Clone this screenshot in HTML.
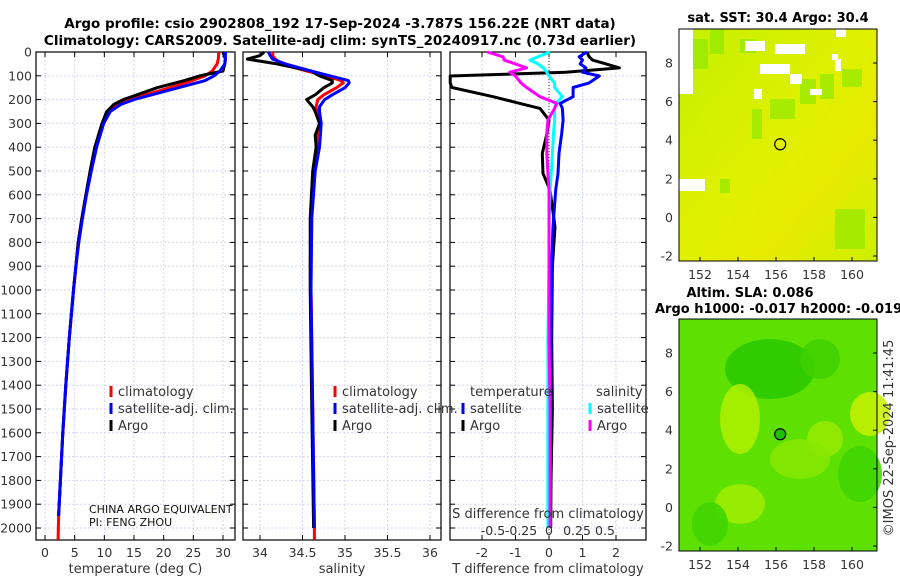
<!DOCTYPE html>
<html><head><meta charset="utf-8"><style>
body{margin:0;background:#fff;}
svg{display:block;font-family:"DejaVu Sans","Liberation Sans",sans-serif;}
</style></head><body>
<svg id="c" width="900" height="580" viewBox="0 0 900 580" xmlns="http://www.w3.org/2000/svg">
<text x="340" y="28" font-size="13.5" font-weight="bold" text-anchor="middle">Argo profile: csio 2902808_192 17-Sep-2024 -3.787S 156.22E (NRT data)</text>
<text x="340" y="45" font-size="13.5" font-weight="bold" text-anchor="middle">Climatology: CARS2009. Satellite-adj clim: synTS_20240917.nc (0.73d earlier)</text>
<g id="maps"></g>
<g id="plots"></g>
</svg>
<script>
// ---- data ----
const depthTicks=[0,100,200,300,400,500,600,700,800,900,1000,1100,1200,1300,1400,1500,1600,1700,1800,1900,2000];
const tempTicks=[0,5,10,15,20,25,30];
const salTicks=[34,34.5,35,35.5,36];
const tdiffTicks=[-2,-1,0,1,2];
const sdiffTicks=[-0.5,-0.25,0,0.25,0.5];
const tDepths=[0,30,50,80,100,120,150,180,200,220,250,300,400,500,600,700,800,900,1000,1200,1400,1600,1800,1950];
const tArgo=[30.0,30.4,30.3,30.0,26.1,23.5,18.9,15.5,13.2,11.6,10.4,9.6,8.4,7.6,6.9,6.2,5.6,5.2,4.8,4.1,3.5,3.0,2.6,2.3];
const tClim=[29.3,29.2,29.0,28.2,27.0,24.8,21.0,17.0,14.2,12.2,10.8,9.8,8.6,7.7,6.9,6.2,5.6,5.2,4.8,4.1,3.5,3.0,2.6,2.3];
const tSat=[30.4,30.4,30.3,29.5,28.5,27.0,22.5,18.0,15.0,12.8,11.0,9.9,8.7,7.8,7.0,6.3,5.7,5.2,4.8,4.1,3.5,3.0,2.6,2.3];
const climDeep=[[1950,2.3],[2050,2.2]];
const sDepths=[0,15,30,50,80,100,120,130,150,180,200,230,250,300,350,400,500,700,1000,1500,2000];
const sArgo=[34.05,34.0,33.85,34.2,34.6,34.7,34.85,34.85,34.75,34.65,34.55,34.62,34.65,34.7,34.65,34.66,34.62,34.59,34.59,34.61,34.63];
const sClim=[34.15,34.15,34.18,34.25,34.55,34.78,34.95,34.98,34.9,34.75,34.68,34.66,34.67,34.7,34.68,34.67,34.63,34.6,34.6,34.62,34.64];
const sSat=[34.1,34.12,34.15,34.3,34.6,34.82,35.04,35.05,35.0,34.85,34.76,34.7,34.7,34.72,34.71,34.7,34.65,34.61,34.6,34.62,34.64];
const dDepths=[0,20,34,50,67,85,101,130,149,188,216,237,286,342,426,510,580,734,900,1200,1500,1800,2000];
const dtArgo=[1.13,1.2,1.3,1.7,2.1,0.5,-2.95,-2.95,-2.9,-1.67,-0.87,-0.27,0.0,-0.06,-0.2,-0.18,0.03,0.18,0.1,0.08,0.1,0.06,0.05];
const dtSat=[1.13,0.9,1.0,0.93,1.1,1.0,1.5,1.2,0.72,0.72,0.33,0.4,0.42,0.38,0.3,0.27,0.2,0.12,0.08,0.06,0.05,0.04,0.03];
const dsArgo=[-0.55,-0.41,-0.4,-0.3,-0.2,-0.35,-0.3,-0.25,-0.2,-0.08,0.07,0.05,-0.01,-0.02,-0.02,-0.01,0.0,0.0,0.0,0.0,0.01,0.01,0.01];
const dsSat=[0.01,-0.1,-0.17,-0.1,-0.05,-0.02,0.0,0.05,0.05,0.12,0.06,0.05,0.05,0.04,0.03,0.02,0.01,0.0,0.0,-0.01,-0.01,-0.01,-0.01];
const lonTicks=[152,154,156,158,160];
const latTicks=[-2,0,2,4,6,8];

const NS="http://www.w3.org/2000/svg";
const plots=document.getElementById('plots');
function mk(tag,attrs,parent){const e=document.createElementNS(NS,tag);for(const k in attrs)e.setAttribute(k,attrs[k]);(parent||plots).appendChild(e);return e;}
const Y0=52,Y1=540;
const yD=d=>Y0+d*0.238;
function lin(v0,v1,p0,p1){return v=>p0+(v-v0)*(p1-p0)/(v1-v0);}
const P=[{x0:36,x1:235,sx:lin(0,30,45,223),ticks:tempTicks,lab:'temperature (deg C)',n:'temperature'},
         {x0:243,x1:441,sx:lin(34,36,260,430),ticks:salTicks,lab:'salinity',n:'salinity'},
         {x0:450,x1:646,sx:lin(0,2,549,616),ticks:tdiffTicks,lab:'T difference from climatology',n:'difference'}];
P.forEach((p,i)=>{
  const g=mk('g',{});
  
  
  depthTicks.forEach(d=>{
    const y=yD(d);
    const l=mk('line',{x1:p.x0,x2:p.x1,y1:y,y2:y,stroke:'#d2d5f0','stroke-width':1,'stroke-dasharray':'2,2'},g);
    
    
    mk('line',{x1:p.x0,x2:p.x0+5,y1:y,y2:y,stroke:'#000'},g);
    mk('line',{x1:p.x1,x2:p.x1-5,y1:y,y2:y,stroke:'#000'},g);
    if(i===0){const t=mk('text',{x:p.x0-4,y:y+4.5,'font-size':12.5,'text-anchor':'end',fill:'#333'},g);t.textContent=d;
      
      }
  });
  p.ticks.forEach(v=>{
    const x=p.sx(v);
    const l=mk('line',{x1:x,x2:x,y1:Y0,y2:Y1,stroke:'#d2d5f0','stroke-width':1,'stroke-dasharray':'2,2'},g);
    
    
    mk('line',{x1:x,x2:x,y1:Y1,y2:Y1-5,stroke:'#000'},g);
    mk('line',{x1:x,x2:x,y1:Y0,y2:Y0+5,stroke:'#000'},g);
    const t=mk('text',{x:x,y:557,'font-size':12.5,'text-anchor':'middle',fill:'#333'},g);t.textContent=v;
    
    
  });
  const r=mk('rect',{x:p.x0,y:Y0,width:p.x1-p.x0,height:Y1-Y0,fill:'none',stroke:'#000','stroke-width':1.2},g);
  
  
  const t=mk('text',{x:(p.x0+p.x1)/2,y:573,'font-size':13,'text-anchor':'middle',fill:'#333'},g);t.textContent=p.lab;
  
  
});
function line(xs,ds,sx,col,name,w){
  const pts=xs.map((v,i)=>sx(v).toFixed(1)+','+yD(ds[i]).toFixed(1)).join(' ');
  const e=mk('polyline',{points:pts,fill:'none',stroke:col,'stroke-width':w||3,'stroke-linejoin':'round'});
  
  
}
line(climDeep.map(a=>a[1]),climDeep.map(a=>a[0]),P[0].sx,'#f00','temp-climatology-deep');
line(tClim,tDepths,P[0].sx,'#f00','temp-climatology-line');
line(tArgo,tDepths,P[0].sx,'#000','temp-argo-line');
line(tSat,tDepths,P[0].sx,'#00f','temp-satellite-line');
mk('line',{x1:P[1].sx(34.64),x2:P[1].sx(34.64),y1:yD(2000),y2:yD(2050),stroke:'#f00','stroke-width':3});
line(sClim,sDepths,P[1].sx,'#f00','sal-climatology-line');
line(sArgo,sDepths,P[1].sx,'#000','sal-argo-line');
line(sSat,sDepths,P[1].sx,'#00f','sal-satellite-line');
const zx=P[2].sx(0);
const zl=mk('line',{x1:zx,x2:zx,y1:Y0,y2:Y1,stroke:'#333','stroke-width':1,'stroke-dasharray':'1,2'});


const sxS=lin(0,0.5,549,605);
line(dtArgo,dDepths,P[2].sx,'#000','tdiff-argo-line');
line(dtSat,dDepths,P[2].sx,'#00f','tdiff-satellite-line');
line(dsSat,dDepths,sxS,'#0ff','sdiff-satellite-line');
line(dsArgo,dDepths,sxS,'#f0f','sdiff-argo-line');
sdiffTicks.forEach(v=>{const t=mk('text',{x:sxS(v),y:535,'font-size':12.5,'text-anchor':'middle',fill:'#333'});t.textContent=v;
  
  });
{const t=mk('text',{x:548,y:518,'font-size':13,'text-anchor':'middle',fill:'#333'});t.textContent='S difference from climatology';
 
 }
function leg(x,y,col,txt,name){
  mk('rect',{x:x-1.5,y:y-10,width:3,height:11,fill:col});
  const t=mk('text',{x:x+7,y:y,'font-size':13,fill:'#333'});t.textContent=txt;
  
  
}
leg(111,396,'#f00','climatology','legend-climatology');
leg(111,413,'#00f','satellite-adj. clim.','legend-satellite-adj');
leg(111,430,'#000','Argo','legend-argo');
leg(335,396,'#f00','climatology','legend-climatology-2');
leg(335,413,'#00f','satellite-adj. clim.','legend-satellite-adj-2');
leg(335,430,'#000','Argo','legend-argo-2');
{const t=mk('text',{x:470,y:396,'font-size':13,fill:'#333'});t.textContent='temperature';
 }
{const t=mk('text',{x:596,y:396,'font-size':13,fill:'#333'});t.textContent='salinity';
 }
leg(463,413,'#00f','satellite','legend-t-satellite');
leg(463,430,'#000','Argo','legend-t-argo');
leg(590,413,'#0ff','satellite','legend-s-satellite');
leg(590,430,'#f0f','Argo','legend-s-argo');
{const t=mk('text',{x:89,y:513,'font-size':11,fill:'#111'});t.textContent='CHINA ARGO EQUIVALENT';
 }
{const t=mk('text',{x:89,y:526,'font-size':11,fill:'#111'});t.textContent='PI: FENG ZHOU';
 }

const maps=document.getElementById('maps');
const mx=lin(152,160,700,852);
function drawMap(top,fillId,name,kind){
  const my=lin(8,-2,top+34,top+227);
  const g=mk('g',{},maps);
  
  
  const defs=mk('defs',{},g);
  if(kind===1){
    const lg=mk('linearGradient',{id:fillId,x1:0,y1:0,x2:1,y2:1},defs);
    mk('stop',{offset:'0','stop-color':'#c4f000'},lg);
    mk('stop',{offset:'0.5','stop-color':'#e0f000'},lg);
    mk('stop',{offset:'0.7','stop-color':'#e8ea00'},lg);
    mk('stop',{offset:'1','stop-color':'#ccf000'},lg);
    mk('rect',{x:679,y:top,width:198,height:232,fill:'url(#'+fillId+')'},g);
    [[710,top,14,25],[740,top+10,16,14],[820,top+45,14,25],[752,top+80,10,30],[842,top+40,20,18],[720,top+150,10,14],[800,top+50,16,25],[690,top+10,18,30],[770,top+70,25,20],[835,top+180,30,40]].forEach(r=>mk('rect',{x:r[0],y:r[1],width:r[2],height:r[3],fill:'#90e800',opacity:0.7},g));
    [[679,top,14,65],[679,top+150,26,12],[745,top+12,20,10],[775,top+15,30,10],[760,top+35,30,10],[790,top+45,12,10],[810,top+60,12,6],[832,top+25,6,6],[836,top,10,8],[754,top+60,8,10],[835,top+30,6,12]].forEach(r=>mk('rect',{x:r[0],y:r[1],width:r[2],height:r[3],fill:'#fff'},g));
  } else {
    mk('rect',{x:679,y:top,width:198,height:232,fill:'#5ee000'},g);
    [[770,top+50,45,30,'#28c800'],[820,top+40,20,20,'#40d000'],[740,top+185,25,20,'#a0ec00'],[740,top+100,20,35,'#b0f000'],[825,top+120,18,18,'#98ea00'],[870,top+95,20,22,'#c8f000'],[710,top+205,18,22,'#3ed400'],[860,top+155,22,28,'#3ed400'],[800,top+140,30,20,'#88e800']].forEach(c=>mk('ellipse',{cx:c[0],cy:c[1],rx:c[2],ry:c[3],fill:c[4],opacity:0.85},g));
  }
  mk('rect',{x:679,y:top,width:198,height:232,fill:'none',stroke:'#000','stroke-width':1},g);
  const c=mk('circle',{cx:mx(156.22),cy:my(3.79),r:5.5,fill:kind===2?'#20c000':'none',stroke:'#000','stroke-width':1.2},g);
  
  
  lonTicks.forEach(v=>{const x=mx(v);mk('line',{x1:x,x2:x,y1:top+232,y2:top+228,stroke:'#000'},g);
    const t=mk('text',{x:x,y:top+250,'font-size':12.5,'text-anchor':'middle',fill:'#333'},g);t.textContent=v;
    });
  latTicks.forEach(v=>{const y=my(v);mk('line',{x1:877,x2:873,y1:y,y2:y,stroke:'#000'},g);
    const t=mk('text',{x:673,y:y+4.5,'font-size':12.5,'text-anchor':'end',fill:'#333'},g);t.textContent=v;
    });
}
drawMap(29,'sstg','sst-map',1);
drawMap(319,'slag','sla-map',2);
{const t=mk('text',{x:778,y:22,'font-size':13,'font-weight':'bold','text-anchor':'middle'},maps);t.textContent='sat. SST: 30.4 Argo: 30.4';
 }
{const t=mk('text',{x:750,y:297,'font-size':13,'font-weight':'bold','text-anchor':'middle'},maps);t.textContent='Altim. SLA: 0.086';
 }
{const t=mk('text',{x:655,y:313,'font-size':13,'font-weight':'bold'},maps);t.textContent='Argo h1000: -0.017 h2000: -0.019';
 }
{const t=mk('text',{x:0,y:0,'font-size':13,'text-anchor':'middle',fill:'#333',transform:'translate(893,438) rotate(-90)'},maps);t.textContent='©IMOS 22-Sep-2024 11:41:45';
 }
</script>
</body></html>
